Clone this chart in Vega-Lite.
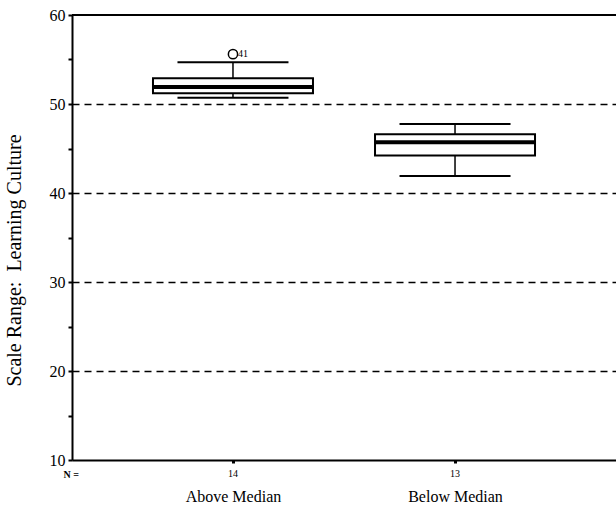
{
  "$schema": "https://vega.github.io/schema/vega-lite/v6.json",
  "width": 544,
  "height": 445,
  "autosize": "none",
  "padding": {"left": 72, "top": 15, "right": 0, "bottom": 52},
  "background": "white",
  "config": {
    "font": "Liberation Serif",
    "view": {"stroke": "#aaaaaa", "strokeWidth": 1},
    "axis": {"labelColor": "black", "titleColor": "black", "labelFont": "Liberation Serif", "titleFont": "Liberation Serif"}
  },
  "datasets": {
    "summary": [
      {"group": "Above Median", "n": 14, "lower": 50.7, "q1": 51.2, "median": 51.9, "q3": 52.9, "upper": 54.7},
      {"group": "Below Median", "n": 13, "lower": 41.9, "q1": 44.2, "median": 45.7, "q3": 46.6, "upper": 47.75}
    ],
    "outliers": [
      {"group": "Above Median", "value": 55.6, "case": "41"}
    ]
  },
  "layer": [
    {
      "data": {"name": "summary"},
      "mark": {"type": "rule", "color": "black", "strokeWidth": 1.5},
      "encoding": {
        "x": {
          "field": "group",
          "type": "nominal",
          "scale": {"type": "point", "padding": 0.725},
          "sort": ["Above Median", "Below Median"],
          "axis": {
            "title": "N =",
            "titleFontSize": 10,
            "titleFontWeight": "bold",
            "titleAnchor": "start",
            "titleAngle": 0,
            "titleX": -9,
            "titleY": 14,
            "titleBaseline": "middle",
            "labelAngle": 0,
            "labelFontSize": 16,
            "labelPadding": 33,
            "labelBaseline": "middle",
            "domainColor": "black",
            "domainWidth": 2,
            "tickColor": "black",
            "tickSize": 3,
            "tickWidth": 3,
            "grid": false
          }
        },
        "y": {
          "field": "lower",
          "type": "quantitative",
          "scale": {"domain": [10, 60], "nice": false, "zero": false},
          "axis": {
            "title": "Scale Range:\u00a0 Learning Culture",
            "titleFontSize": 20,
            "titleFontWeight": "normal",
            "titleX": -58,
            "titleY": 245,
            "titleBaseline": "middle",
            "values": [10, 15, 20, 25, 30, 35, 40, 45, 50, 55, 60],
            "labelExpr": "datum.value % 10 == 0 ? datum.label : ''",
            "labelFontSize": 16,
            "labelPadding": 3,
            "domainColor": "black",
            "domainWidth": 2,
            "tickColor": "black",
            "tickSize": 4,
            "tickWidth": 2,
            "grid": true,
            "gridColor": "black",
            "gridWidth": 1.5,
            "gridDash": [7, 5],
            "gridOpacity": {"condition": {"test": "datum.value % 10 == 0 && datum.value > 10 && datum.value < 60", "value": 1}, "value": 0}
          }
        },
        "y2": {"field": "upper"}
      }
    },
    {
      "data": {"name": "summary"},
      "mark": {"type": "bar", "size": 160, "fill": "white", "stroke": "black", "strokeWidth": 2},
      "encoding": {
        "x": {"field": "group", "type": "nominal"},
        "y": {"field": "q1", "type": "quantitative"},
        "y2": {"field": "q3"}
      }
    },
    {
      "data": {"name": "summary"},
      "mark": {"type": "tick", "size": 160, "thickness": 4, "color": "black", "opacity": 1},
      "encoding": {
        "x": {"field": "group", "type": "nominal"},
        "y": {"field": "median", "type": "quantitative"}
      }
    },
    {
      "data": {"name": "summary"},
      "mark": {"type": "tick", "size": 111, "thickness": 2, "color": "black", "opacity": 1},
      "encoding": {
        "x": {"field": "group", "type": "nominal"},
        "y": {"field": "lower", "type": "quantitative"}
      }
    },
    {
      "data": {"name": "summary"},
      "mark": {"type": "tick", "size": 111, "thickness": 2, "color": "black", "opacity": 1},
      "encoding": {
        "x": {"field": "group", "type": "nominal"},
        "y": {"field": "upper", "type": "quantitative"}
      }
    },
    {
      "data": {"name": "summary"},
      "mark": {"type": "text", "fontSize": 10, "dy": 14, "baseline": "middle", "color": "black"},
      "encoding": {
        "x": {"field": "group", "type": "nominal"},
        "y": {"datum": 10, "type": "quantitative"},
        "text": {"field": "n", "type": "quantitative"}
      }
    },
    {
      "data": {"name": "outliers"},
      "mark": {"type": "point", "shape": "circle", "filled": false, "size": 85, "stroke": "black", "strokeWidth": 1.5, "opacity": 1},
      "encoding": {
        "x": {"field": "group", "type": "nominal"},
        "y": {"field": "value", "type": "quantitative"}
      }
    },
    {
      "data": {"name": "outliers"},
      "mark": {"type": "text", "fontSize": 10, "dx": 5, "align": "left", "baseline": "middle", "color": "black"},
      "encoding": {
        "x": {"field": "group", "type": "nominal"},
        "y": {"field": "value", "type": "quantitative"},
        "text": {"field": "case", "type": "nominal"}
      }
    },
    {
      "data": {"values": [{}]},
      "mark": {"type": "rule", "color": "black", "strokeWidth": 2},
      "encoding": {"y": {"datum": 60, "type": "quantitative"}}
    }
  ]
}
